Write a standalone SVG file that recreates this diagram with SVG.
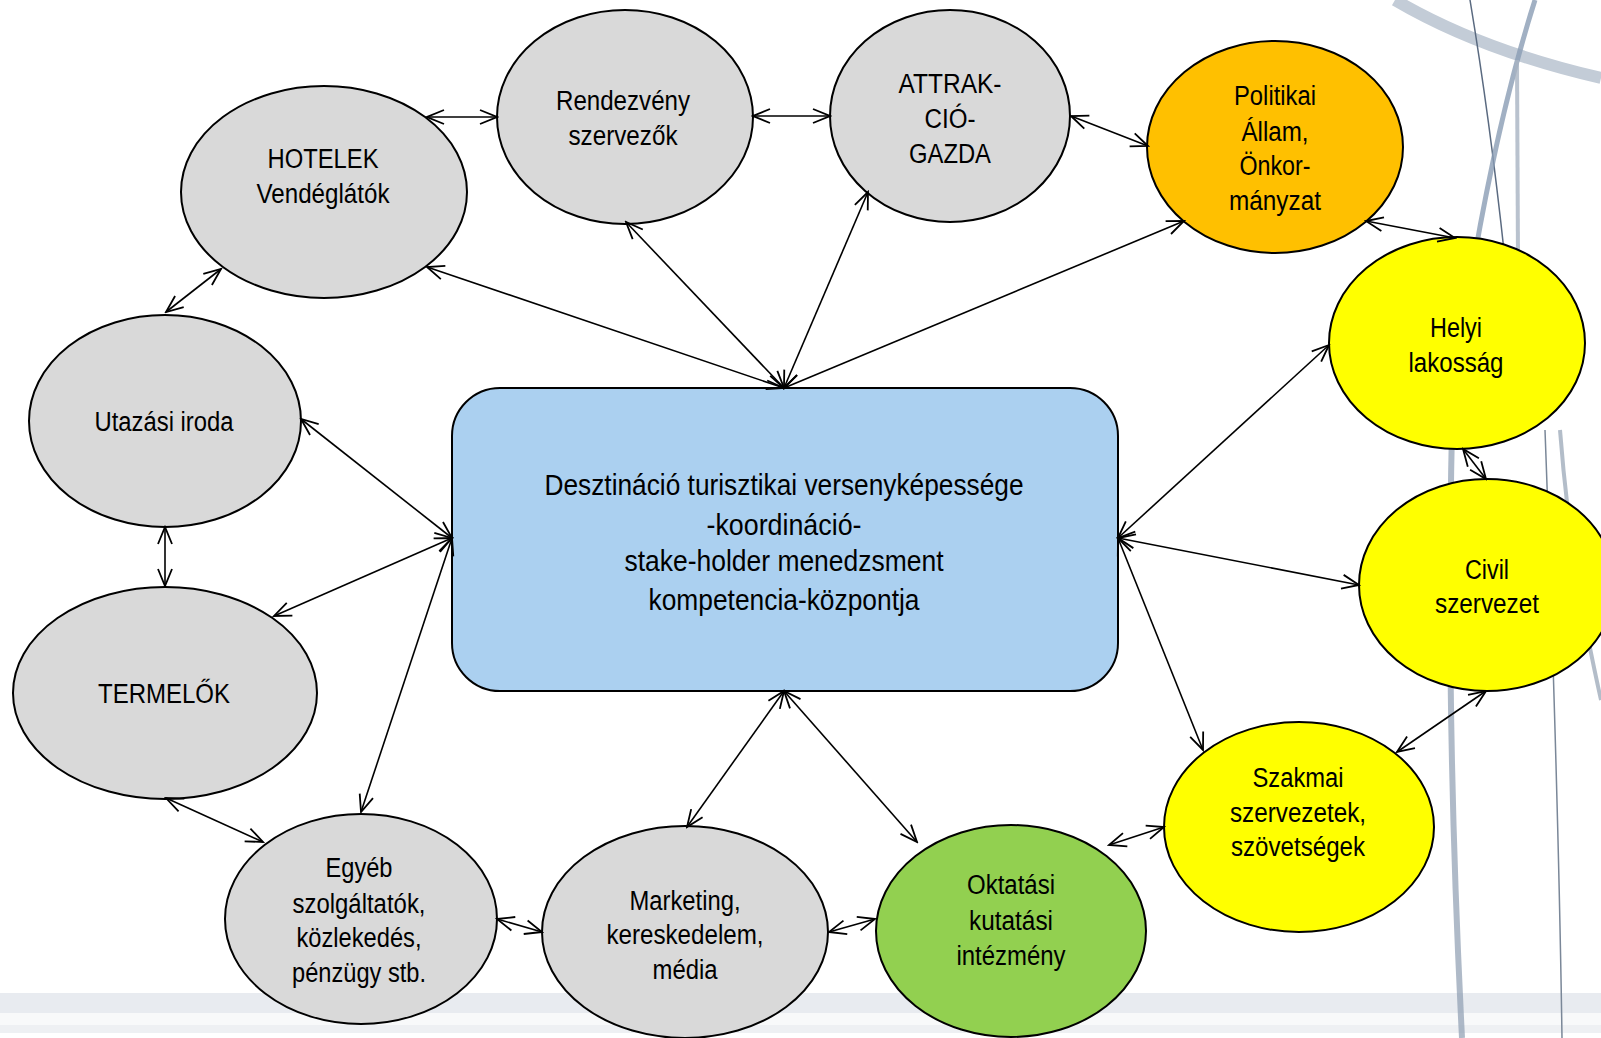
<svg xmlns="http://www.w3.org/2000/svg" width="1601" height="1038" viewBox="0 0 1601 1038">
<style>
.n{stroke:#000;stroke-width:2}
.g{fill:#d9d9d9}
.o{fill:#ffc000}
.y{fill:#ffff00}
.gr{fill:#92d050}
.b{fill:#abd0f0}
text{font-family:"Liberation Sans Narrow","Arial Narrow","Liberation Sans",sans-serif;font-size:27px;fill:#000;text-anchor:middle}
.c text{font-size:29px}
.e line{stroke:#000;stroke-width:1.6;marker-start:url(#ah);marker-end:url(#ah)}
.bg{fill:none}
</style>
<defs>
<marker id="ah" viewBox="-20 -10 22 20" refX="0" refY="0" markerWidth="22" markerHeight="20" markerUnits="userSpaceOnUse" orient="auto-start-reverse">
<path d="M-17,-7 L0,0 L-17,7" fill="none" stroke="#000" stroke-width="1.8"/>
</marker>
</defs>
<rect width="1601" height="1038" fill="#fff"/>
<g id="background">
<rect x="0" y="993" width="1601" height="20" fill="#e8ebf0"/>
<rect x="0" y="1013" width="1601" height="12" fill="#f8f9fa"/>
<rect x="0" y="1025" width="1601" height="8" fill="#eef0f3"/>
<path class="bg" d="M1395,0 Q1480,50 1601,78" stroke="#c3ccd7" stroke-width="12"/>
<path class="bg" d="M1470,0 Q1490,120 1505,260" stroke="#5a6a80" stroke-width="1.5"/>
<path class="bg" d="M1535,0 Q1500,110 1474,260" stroke="#8a9cb4" stroke-width="5" opacity="0.8"/>
<path class="bg" d="M1517,60 L1518,260" stroke="#a7b3c2" stroke-width="4" opacity="0.8"/>
<path class="bg" d="M1452,430 C1448,600 1450,800 1462,1038" stroke="#8d9db0" stroke-width="6" opacity="0.7"/>
<path class="bg" d="M1545,430 C1555,700 1560,900 1562,1038" stroke="#7a8798" stroke-width="1.5"/>
<path class="bg" d="M1560,430 C1570,560 1590,650 1601,700" stroke="#a0adbb" stroke-width="4" opacity="0.8"/>
</g>
<g id="center" class="c">
<rect class="n b" x="452" y="388" width="666" height="303" rx="48" ry="48"/>
<text x="784" y="495" textLength="479" lengthAdjust="spacingAndGlyphs">Desztináció turisztikai versenyképessége</text>
<text x="784" y="535" textLength="155" lengthAdjust="spacingAndGlyphs">-koordináció-</text>
<text x="784" y="571" textLength="319" lengthAdjust="spacingAndGlyphs">stake-holder menedzsment</text>
<text x="784" y="610" textLength="271" lengthAdjust="spacingAndGlyphs">kompetencia-központja</text>
</g>
<g id="hotelek">
<ellipse class="n g" cx="324" cy="192" rx="143" ry="106"/>
<text x="323" y="168" textLength="111" lengthAdjust="spacingAndGlyphs">HOTELEK</text>
<text x="323" y="203" textLength="133" lengthAdjust="spacingAndGlyphs">Vendéglátók</text>
</g>
<g id="rendezveny">
<ellipse class="n g" cx="625" cy="117" rx="128" ry="107"/>
<text x="623" y="110" textLength="134" lengthAdjust="spacingAndGlyphs">Rendezvény</text>
<text x="623" y="145" textLength="109" lengthAdjust="spacingAndGlyphs">szervezők</text>
</g>
<g id="attrakcio">
<ellipse class="n g" cx="950" cy="116" rx="120" ry="106"/>
<text x="950" y="93" textLength="103" lengthAdjust="spacingAndGlyphs">ATTRAK-</text>
<text x="950" y="128" textLength="51" lengthAdjust="spacingAndGlyphs">CIÓ-</text>
<text x="950" y="163" textLength="82" lengthAdjust="spacingAndGlyphs">GAZDA</text>
</g>
<g id="politikai">
<ellipse class="n o" cx="1275" cy="147" rx="128" ry="106"/>
<text x="1275" y="105" textLength="82" lengthAdjust="spacingAndGlyphs">Politikai</text>
<text x="1275" y="141" textLength="67" lengthAdjust="spacingAndGlyphs">Állam,</text>
<text x="1275" y="175" textLength="71" lengthAdjust="spacingAndGlyphs">Önkor-</text>
<text x="1275" y="210" textLength="92" lengthAdjust="spacingAndGlyphs">mányzat</text>
</g>
<g id="helyi">
<ellipse class="n y" cx="1457" cy="343" rx="128" ry="106"/>
<text x="1456" y="337" textLength="52" lengthAdjust="spacingAndGlyphs">Helyi</text>
<text x="1456" y="372" textLength="95" lengthAdjust="spacingAndGlyphs">lakosság</text>
</g>
<g id="civil">
<ellipse class="n y" cx="1487" cy="585" rx="128" ry="106"/>
<text x="1487" y="579" textLength="44" lengthAdjust="spacingAndGlyphs">Civil</text>
<text x="1487" y="613" textLength="104" lengthAdjust="spacingAndGlyphs">szervezet</text>
</g>
<g id="szakmai">
<ellipse class="n y" cx="1299" cy="827" rx="135" ry="105"/>
<text x="1298" y="787" textLength="91" lengthAdjust="spacingAndGlyphs">Szakmai</text>
<text x="1298" y="822" textLength="136" lengthAdjust="spacingAndGlyphs">szervezetek,</text>
<text x="1298" y="856" textLength="134" lengthAdjust="spacingAndGlyphs">szövetségek</text>
</g>
<g id="oktatasi">
<ellipse class="n gr" cx="1011" cy="931" rx="135" ry="106"/>
<text x="1011" y="894" textLength="88" lengthAdjust="spacingAndGlyphs">Oktatási</text>
<text x="1011" y="930" textLength="84" lengthAdjust="spacingAndGlyphs">kutatási</text>
<text x="1011" y="965" textLength="109" lengthAdjust="spacingAndGlyphs">intézmény</text>
</g>
<g id="marketing">
<ellipse class="n g" cx="685" cy="932" rx="143" ry="106"/>
<text x="685" y="910" textLength="111" lengthAdjust="spacingAndGlyphs">Marketing,</text>
<text x="685" y="944" textLength="157" lengthAdjust="spacingAndGlyphs">kereskedelem,</text>
<text x="685" y="979" textLength="65" lengthAdjust="spacingAndGlyphs">média</text>
</g>
<g id="egyeb">
<ellipse class="n g" cx="361" cy="919" rx="136" ry="105"/>
<text x="359" y="877" textLength="67" lengthAdjust="spacingAndGlyphs">Egyéb</text>
<text x="359" y="913" textLength="133" lengthAdjust="spacingAndGlyphs">szolgáltatók,</text>
<text x="359" y="947" textLength="125" lengthAdjust="spacingAndGlyphs">közlekedés,</text>
<text x="359" y="982" textLength="134" lengthAdjust="spacingAndGlyphs">pénzügy stb.</text>
</g>
<g id="termelok">
<ellipse class="n g" cx="165" cy="693" rx="152" ry="106"/>
<text x="164" y="703" textLength="132" lengthAdjust="spacingAndGlyphs">TERMELŐK</text>
</g>
<g id="utazasi">
<ellipse class="n g" cx="165" cy="421" rx="136" ry="106"/>
<text x="164" y="431" textLength="139" lengthAdjust="spacingAndGlyphs">Utazási iroda</text>
</g>
<g id="connectors" class="e">
<line x1="427" y1="117" x2="497" y2="117"/>
<line x1="753" y1="116" x2="830" y2="116"/>
<line x1="1071" y1="116" x2="1148" y2="146"/>
<line x1="1366" y1="221" x2="1455" y2="238"/>
<line x1="1463" y1="449" x2="1486" y2="479"/>
<line x1="1486" y1="691" x2="1397" y2="752"/>
<line x1="1164" y1="827" x2="1109" y2="845"/>
<line x1="875" y1="919" x2="829" y2="932"/>
<line x1="542" y1="932" x2="497" y2="919"/>
<line x1="263" y1="842" x2="166" y2="798"/>
<line x1="165" y1="527" x2="165" y2="586"/>
<line x1="166" y1="312" x2="221" y2="269"/>
<line x1="784" y1="388" x2="427" y2="267"/>
<line x1="784" y1="388" x2="626" y2="222"/>
<line x1="784" y1="388" x2="868" y2="192"/>
<line x1="784" y1="388" x2="1184" y2="221"/>
<line x1="452" y1="538" x2="301" y2="419"/>
<line x1="452" y1="538" x2="274" y2="616"/>
<line x1="452" y1="538" x2="361" y2="812"/>
<line x1="784" y1="691" x2="687" y2="827"/>
<line x1="784" y1="691" x2="917" y2="842"/>
<line x1="1118" y1="538" x2="1329" y2="345"/>
<line x1="1118" y1="538" x2="1359" y2="585"/>
<line x1="1118" y1="538" x2="1203" y2="750"/>
</g>
</svg>
